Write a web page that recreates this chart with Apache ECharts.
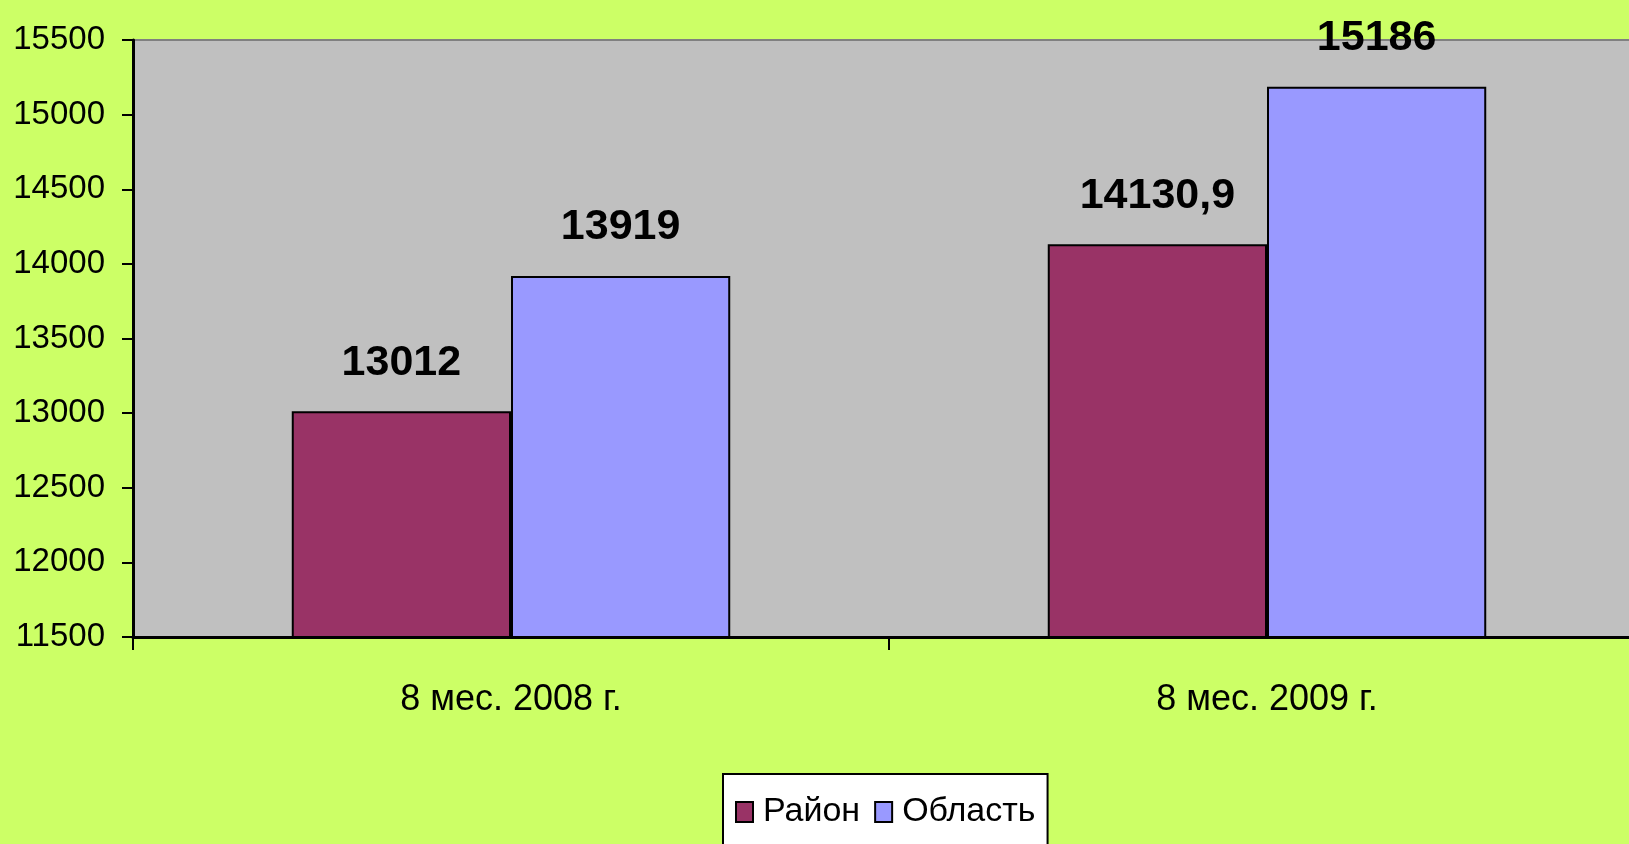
<!DOCTYPE html>
<html>
<head>
<meta charset="utf-8">
<script src="https://cdn.jsdelivr.net/npm/echarts@6/dist/echarts.min.js"></script>
<style>
  html, body { margin: 0; padding: 0; background: #CCFF66; }
  #main { width: 1629px; height: 844px; }
</style>
</head>
<body>
<div id="main"></div>
<script>
// данные
var categories = ['8 мес. 2008 г.', '8 мес. 2009 г.'];
var rayon = [13012, 14130.9];
var oblast = [13919, 15186];
var seriesNames = ['Район', 'Область'];

var FONT = '"Liberation Sans", Arial, sans-serif';

var chart = echarts.init(document.getElementById('main'));

// подпись над столбцом, десятичная запятая
function labelFmt(p) {
  return String(p.value).replace('.', ',');
}

var barLabel = {
  show: true,
  position: 'top',
  distance: 27,
  color: '#000',
  fontFamily: FONT,
  fontWeight: 'bold',
  fontSize: 43,
  formatter: labelFmt
};

var option = {
  backgroundColor: '#CCFF66',
  animation: false,
  grid: {
    left: 133,
    top: 40,
    bottom: 207,
    width: 1512, // область построения уходит за правый край
    outerBoundsMode: 'none',
    containLabel: false,
    show: true,
    backgroundColor: '#C0C0C0',
    borderColor: '#808080',
    borderWidth: 2
  },
  legend: {
    data: seriesNames,
    left: 723,
    top: 774,
    padding: [21, 12, 40, 12],
    backgroundColor: '#FFFFFF',
    borderColor: '#000',
    borderWidth: 2,
    icon: 'rect',
    itemWidth: 17,
    itemHeight: 20,
    itemGap: 14,
    textStyle: {
      color: '#000',
      fontFamily: FONT,
      fontSize: 34,
      padding: [0, 0, 0, 5]
    }
  },
  xAxis: {
    type: 'category',
    data: categories,
    axisLine: { lineStyle: { color: '#000', width: 3 } },
    axisTick: { show: true, length: 13, lineStyle: { color: '#000', width: 2 } },
    axisLabel: {
      color: '#000',
      fontFamily: FONT,
      fontSize: 36,
      margin: 45
    }
  },
  yAxis: {
    type: 'value',
    min: 11500,
    max: 15500,
    interval: 500,
    axisLine: { show: true, lineStyle: { color: '#000', width: 3 } },
    axisTick: { show: true, length: 11, lineStyle: { color: '#000', width: 2 } },
    splitLine: { show: false },
    axisLabel: {
      color: '#000',
      fontFamily: FONT,
      fontSize: 33,
      margin: 28,
      formatter: function (v) { return String(v); }
    }
  },
  series: [
    {
      name: seriesNames[0],
      type: 'bar',
      data: rayon,
      barGap: '0%',
      barCategoryGap: '42%',
      itemStyle: { color: '#993366', borderColor: '#000', borderWidth: 2 },
      label: barLabel
    },
    {
      name: seriesNames[1],
      type: 'bar',
      data: oblast,
      itemStyle: { color: '#9999FF', borderColor: '#000', borderWidth: 2 },
      label: barLabel
    }
  ]
};

chart.setOption(option);
</script>
</body>
</html>
